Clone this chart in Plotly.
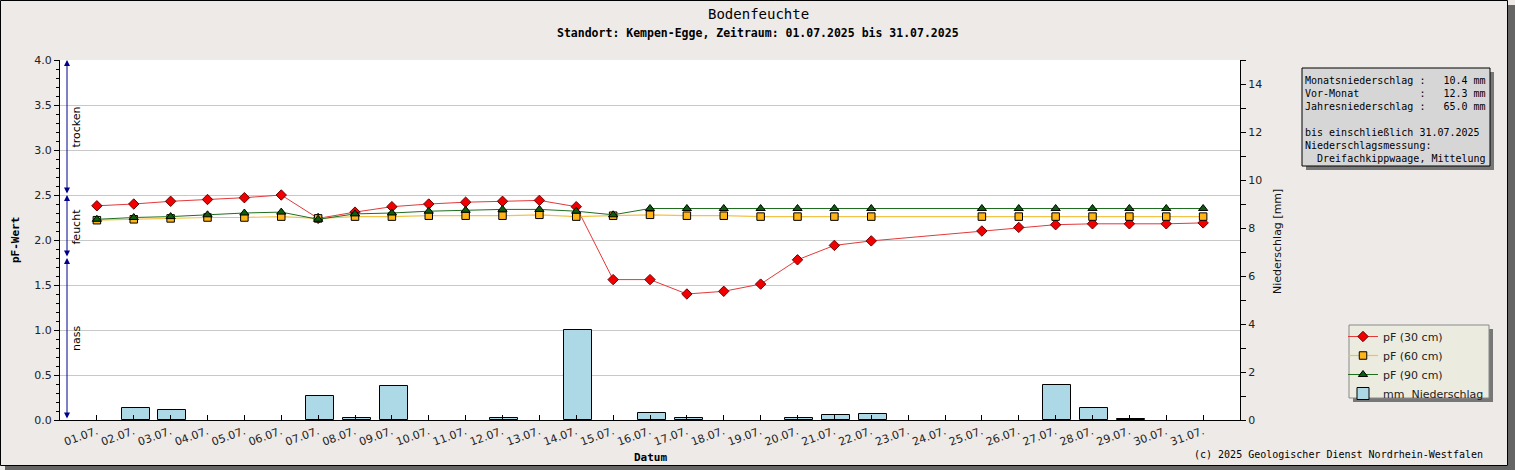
import plotly.graph_objects as go

# Bildgröße und Ränder (Pixel)
FIG_W, FIG_H = 1515, 470
M_L, M_R, M_T, M_B = 60, 275, 60, 50
PLOT_W = FIG_W - M_L - M_R
PLOT_H = FIG_H - M_T - M_B

MONO = "DejaVu Sans Mono"
SANS = "DejaVu Sans"


def px(x):
    # Pixel -> paper x
    return (x - M_L) / PLOT_W


def py(y):
    # Pixel -> paper y
    return (FIG_H - M_B - y) / PLOT_H


# --- Daten ---------------------------------------------------------------
tage = list(range(1, 32))
tag_labels = [
    "01.07.", "02.07.", "03.07.", "04.07.", "05.07.", "06.07.", "07.07.",
    "08.07.", "09.07.", "10.07.", "11.07.", "12.07.", "13.07.", "14.07.",
    "15.07.", "16.07.", "17.07.", "18.07.", "19.07.", "20.07.", "21.07.",
    "22.07.", "23.07.", "24.07.", "25.07.", "26.07.", "27.07.", "28.07.",
    "29.07.", "30.07.", "31.07.",
]

pf_30 = [2.38, 2.40, 2.43, 2.45, 2.47, 2.50, 2.24, 2.31, 2.37, 2.40, 2.42,
         2.43, 2.44, 2.37, 1.56, 1.56, 1.40, 1.43, 1.51, 1.78, 1.94, 1.99,
         None, None, 2.10, 2.14, 2.17, 2.18, 2.18, 2.18, 2.19]
pf_60 = [2.22, 2.23, 2.24, 2.25, 2.25, 2.26, 2.24, 2.26, 2.26, 2.27, 2.27,
         2.27, 2.28, 2.26, 2.27, 2.28, 2.27, 2.27, 2.26, 2.26, 2.26, 2.26,
         None, None, 2.26, 2.26, 2.26, 2.26, 2.26, 2.26, 2.26]
pf_90 = [2.23, 2.25, 2.26, 2.28, 2.30, 2.31, 2.23, 2.29, 2.30, 2.32, 2.33,
         2.34, 2.34, 2.32, 2.28, 2.35, 2.35, 2.35, 2.35, 2.35, 2.35, 2.35,
         None, None, 2.35, 2.35, 2.35, 2.35, 2.35, 2.35, 2.35]
niederschlag = [0, 0.5, 0.4, 0, 0, 0, 1.0, 0.1, 1.4, 0, 0, 0.1, 0, 3.75,
                0, 0.3, 0.1, 0, 0, 0.1, 0.2, 0.25, 0, 0, 0, 0, 1.45, 0.5,
                0.05, 0, 0]

zonen_grenzen = [0.0, 1.8, 2.5, 4.0]
zonen_namen = ["nass", "feucht", "trocken"]

info_zeilen = [
    "Monatsniederschlag :   10.4 mm",
    "Vor-Monat          :   12.3 mm",
    "Jahresniederschlag :   65.0 mm",
    " ",
    "bis einschließlich 31.07.2025",
    "Niederschlagsmessung:",
    "  Dreifachkippwaage, Mittelung",
]

# --- Figur ---------------------------------------------------------------
fig = go.Figure()

# Tage ohne Niederschlag: kein Balken (sonst erscheint ein Strich auf der Achse)
balken_y = [v if v > 0 else None for v in niederschlag]

fig.add_trace(go.Bar(
    x=tage, y=balken_y, yaxis="y",
    width=0.76, offset=-0.33,
    marker=dict(color="#add8e6", line=dict(color="black", width=1)),
    name="mm\u00a0\u00a0Niederschlag", legendrank=4,
))
fig.add_trace(go.Scatter(
    x=tage, y=pf_30, yaxis="y2", mode="lines+markers", connectgaps=True,
    line=dict(color="#e23a3a", width=1),
    marker=dict(symbol="diamond", size=8, color="#f00000",
                line=dict(color="#700000", width=1)),
    name="pF (30 cm)", legendrank=1,
))
fig.add_trace(go.Scatter(
    x=tage, y=pf_60, yaxis="y2", mode="lines+markers", connectgaps=True,
    line=dict(color="#f4c245", width=1.2),
    marker=dict(symbol="square", size=7.5, color="#ffb418",
                line=dict(color="black", width=1)),
    name="pF (60 cm)", legendrank=2,
))
fig.add_trace(go.Scatter(
    x=tage, y=pf_90, yaxis="y2", mode="lines+markers", connectgaps=True,
    line=dict(color="#1f6e1f", width=1),
    marker=dict(symbol="triangle-up", size=8, color="#0b5e0b",
                line=dict(color="black", width=1)),
    name="pF (90 cm)", legendrank=3,
))

tick_font = dict(family=SANS, size=11, color="#222222")

fig.update_layout(
    width=FIG_W, height=FIG_H,
    margin=dict(l=M_L, r=M_R, t=M_T, b=M_B, autoexpand=False),
    paper_bgcolor="#edeae8",
    plot_bgcolor="white",
    bargap=0,
    xaxis=dict(
        range=[0, 32], tickmode="array", tickvals=tage, ticktext=tag_labels,
        tickangle=-20, tickfont=tick_font, ticks="inside", ticklen=5,
        tickcolor="black", showline=True, linecolor="black", linewidth=1,
        showgrid=False, zeroline=False, automargin=False,
    ),
    yaxis=dict(
        side="right", range=[0, 15], dtick=2, tickfont=tick_font,
        ticks="outside", ticklen=5, tickcolor="black",
        minor=dict(dtick=1, ticks="outside", ticklen=5, tickcolor="black"),
        showline=True, linecolor="black", linewidth=1,
        showgrid=False, zeroline=False, automargin=False,
    ),
    yaxis2=dict(
        overlaying="y", side="left", anchor="x", range=[0, 4], dtick=0.5,
        tickformat=".1f", tickfont=tick_font,
        ticks="outside", ticklen=5, tickcolor="black",
        minor=dict(dtick=0.1, ticks="outside", ticklen=3, tickcolor="black"),
        showline=True, linecolor="black", linewidth=1,
        showgrid=True, gridcolor="#c8c8c8", gridwidth=1,
        zeroline=False, automargin=False,
    ),
    legend=dict(
        x=px(1343), xanchor="left", y=py(322), yanchor="top",
        bgcolor="rgba(0,0,0,0)", borderwidth=0, itemwidth=30,
        font=dict(family=SANS, size=11, color="#222222"),
        traceorder="normal",
    ),
    showlegend=True,
)


def rect(x0, y0, x1, y1, fill, line_color=None):
    return dict(
        type="rect", xref="paper", yref="paper", layer="above",
        x0=px(x0), x1=px(x1), y0=py(y0), y1=py(y1),
        fillcolor=fill,
        line=dict(color=line_color or "rgba(0,0,0,0)", width=1 if line_color else 0),
    )


shapes = [
    # Rahmen mit Schatten
    rect(1508, 5, 1515, 470, "#656565"),
    rect(5, 466, 1515, 470, "#656565"),
    rect(0.5, 0.5, 1507.5, 465.5, "rgba(0,0,0,0)", "black"),
    # Info-Kasten
    rect(1306, 72, 1494, 170, "#777777"),
    rect(1302, 68, 1490, 166, "#d6d6d6", "black"),
    # Legenden-Kasten
    rect(1353, 329, 1493, 402, "#777777"),
    rect(1349, 325, 1489, 398, "#ecebe0", "#8a8a8a"),
]
fig.update_layout(shapes=shapes)

annotations = []

# Zonenpfeile links (trocken / feucht / nass)
pfeil_x = (67 - M_L) / (PLOT_W / 32)
text_x = (76 - M_L) / (PLOT_W / 32)
for lo, hi, name in zip(zonen_grenzen[:-1], zonen_grenzen[1:], zonen_namen):
    annotations.append(dict(
        x=pfeil_x, y=hi, ax=pfeil_x, ay=lo, xref="x", yref="y2",
        axref="x", ayref="y2", text="", showarrow=True,
        arrowside="end+start", arrowhead=2, arrowsize=1.2, arrowwidth=1,
        arrowcolor="#00008b", standoff=0, startstandoff=0,
    ))
    annotations.append(dict(
        x=text_x, y=(lo + hi) / 2, xref="x", yref="y2", text=name,
        showarrow=False, textangle=-90, xanchor="center", yanchor="middle",
        font=dict(family=SANS, size=11, color="black"),
    ))


def label(x, y, text, font, angle=0, xanchor="center"):
    return dict(x=px(x), y=py(y), xref="paper", yref="paper", text=text,
                showarrow=False, textangle=angle, xanchor=xanchor,
                yanchor="middle", font=font)


annotations += [
    label(758, 14, "Bodenfeuchte", dict(family=MONO, size=14, color="black")),
    label(758, 33,
          "<b>Standort: Kempen-Egge, Zeitraum: 01.07.2025 bis 31.07.2025</b>",
          dict(family=MONO, size=11.5, color="black")),
    label(15, 240, "<b>pF-Wert</b>", dict(family=MONO, size=11, color="black"),
          angle=-90),
    label(1277, 242, "Niederschlag [mm]",
          dict(family=SANS, size=11, color="#111111"), angle=-90),
    label(650, 457, "<b>Datum</b>", dict(family=MONO, size=11, color="black")),
    label(1485, 454, "(c) 2025 Geologischer Dienst Nordrhein-Westfalen",
          dict(family=MONO, size=10, color="black"), xanchor="right"),
    dict(x=px(1304), y=py(119), xref="paper", yref="paper",
         xanchor="left", yanchor="middle", align="left", borderpad=0,
         text="<br>".join(z.replace(" ", "\u00a0") for z in info_zeilen),
         showarrow=False, font=dict(family=MONO, size=10, color="black")),
]
fig.update_layout(annotations=annotations)

# Seitenrand des Browsers entfernen, damit die Grafik bei (0,0) beginnt
fig.write_html("out.html", config={"displayModeBar": False},
               post_script="document.body.style.margin='0px';")
